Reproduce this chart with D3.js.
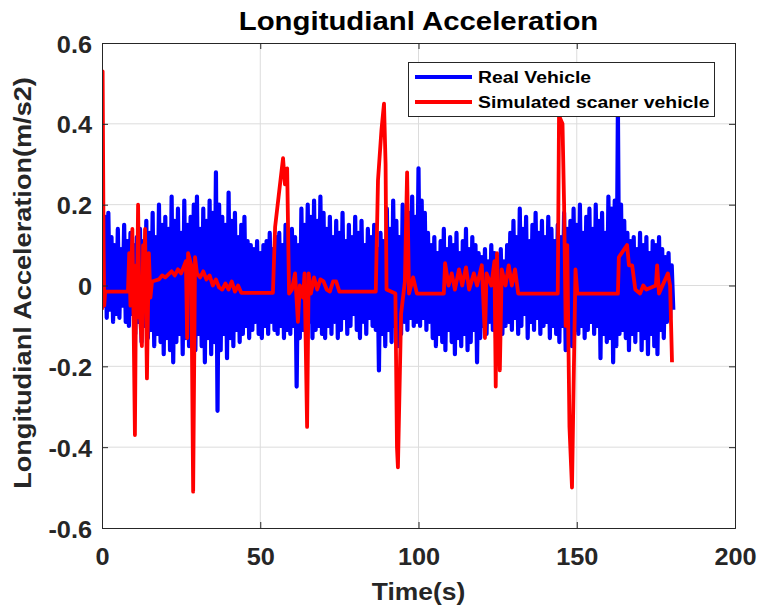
<!DOCTYPE html>
<html><head><meta charset="utf-8">
<script src="https://cdn.jsdelivr.net/npm/d3@7"></script>
<style>body{margin:0;background:#fff}</style>
</head><body><svg id="c" width="761" height="612"></svg>
<script>
// ---------- data ----------
const titleText = "Longitudianl Acceleration";
const xLabel = "Time(s)";
const yLabel = "Longitudianl Acceleration(m/s2)";
const seriesNames = ["Real Vehicle", "Simulated scaner vehicle"];
const xTicks = [0, 50, 100, 150, 200];
const xTickLabels = ["0", "50", "100", "150", "200"];
const yTicks = [-0.6, -0.4, -0.2, 0, 0.2, 0.4, 0.6];
const yTickLabels = ["-0.6", "-0.4", "-0.2", "0", "0.2", "0.4", "0.6"];

// Real vehicle: upper peaks at whole seconds (0..180 s)
const blueHi = [
 0.06,0.17,0.18,0.12,0.10,0.14,0.09,0.15,0.11,0.13,
 0.10,0.12,0.14,0.11,0.16,0.13,0.18,0.12,0.20,0.15,
 0.17,0.14,0.22,0.16,0.19,0.13,0.21,0.15,0.17,0.20,
 0.22,0.14,0.19,0.16,0.21,0.18,0.28,0.20,0.17,0.15,
 0.23,0.16,0.18,0.12,0.15,0.17,0.11,0.10,0.09,0.11,
 0.08,0.10,0.11,0.13,0.09,0.12,0.13,0.10,0.15,0.11,
 0.14,0.12,0.10,0.19,0.15,0.20,0.17,0.21,0.16,0.22,
 0.18,0.14,0.17,0.12,0.16,0.13,0.18,0.11,0.15,0.12,
 0.17,0.13,0.16,0.10,0.14,0.12,0.15,0.09,0.13,0.11,
 0.19,0.14,0.21,0.16,0.12,0.20,0.15,0.18,0.22,0.17,
 0.29,0.21,0.18,0.13,0.10,0.12,0.08,0.11,0.14,0.09,
 0.12,0.10,0.13,0.08,0.11,0.14,0.09,0.12,0.10,0.08,
 0.07,0.09,0.06,0.10,0.08,0.07,0.09,0.06,0.10,0.13,
 0.16,0.12,0.19,0.14,0.17,0.11,0.15,0.18,0.13,0.16,
 0.12,0.17,0.14,0.11,0.15,0.12,0.18,0.14,0.16,0.19,
 0.15,0.20,0.13,0.17,0.19,0.14,0.20,0.16,0.18,0.13,
 0.22,0.19,0.21,0.43,0.20,0.16,0.13,0.11,0.12,0.09,
 0.13,0.10,0.12,0.08,0.11,0.10,0.12,0.09,0.07,0.08,0.05
];
// Real vehicle: lower troughs at half seconds (0.5..180.5 s)
const blueLo = [
 -0.05,-0.08,-0.06,-0.09,-0.07,-0.08,-0.05,-0.09,-0.10,-0.07,
 -0.12,-0.09,-0.14,-0.10,-0.13,-0.11,-0.15,-0.12,-0.14,-0.17,
 -0.13,-0.16,-0.19,-0.14,-0.12,-0.17,-0.13,-0.15,-0.11,-0.16,
 -0.12,-0.15,-0.19,-0.13,-0.17,-0.14,-0.31,-0.16,-0.12,-0.18,
 -0.13,-0.15,-0.11,-0.14,-0.12,-0.10,-0.13,-0.11,-0.09,-0.12,
 -0.13,-0.10,-0.12,-0.09,-0.11,-0.12,-0.10,-0.13,-0.11,-0.12,
 -0.10,-0.25,-0.13,-0.11,-0.12,-0.09,-0.13,-0.11,-0.10,-0.12,
 -0.13,-0.10,-0.12,-0.09,-0.13,-0.11,-0.08,-0.12,-0.10,-0.07,
 -0.11,-0.13,-0.09,-0.12,-0.08,-0.10,-0.11,-0.21,-0.12,-0.15,
 -0.11,-0.14,-0.10,-0.15,-0.12,-0.09,-0.11,-0.08,-0.10,-0.09,
 -0.10,-0.08,-0.11,-0.09,-0.13,-0.15,-0.12,-0.14,-0.16,-0.11,
 -0.14,-0.17,-0.13,-0.15,-0.12,-0.16,-0.14,-0.11,-0.19,-0.13,
 -0.10,-0.12,-0.09,-0.11,-0.13,-0.08,-0.12,-0.10,-0.09,-0.11,
 -0.08,-0.12,-0.10,-0.07,-0.13,-0.09,-0.11,-0.08,-0.12,-0.10,
 -0.09,-0.13,-0.10,-0.12,-0.14,-0.10,-0.16,-0.12,-0.15,-0.11,
 -0.12,-0.10,-0.13,-0.11,-0.09,-0.12,-0.10,-0.18,-0.12,-0.14,
 -0.13,-0.19,-0.15,-0.12,-0.11,-0.13,-0.16,-0.12,-0.14,-0.11,
 -0.16,-0.13,-0.17,-0.12,-0.15,-0.17,-0.11,-0.13,-0.09,-0.08,-0.06
];

// Simulated vehicle (time, value)
const redT = [
 0,0.2,0.5,0.7,1.0,8.2,8.6,9.0,9.6,10.0,10.4,10.8,11.0,11.4,11.8,12.6,13.0,13.3,13.6,14.2,14.8,15.3,15.8,
 18,19,20,22,23,24,25,26.5,26.9,27.2,28.2,28.8,29.4,30.0,31,32,33,34,35,36,37,38,39,40,41,42,43,44,
 54,54.7,55.8,57.2,57.8,58.5,59.1,60.0,61.0,61.9,62.5,63.5,64.0,64.8,65.3,66,67,68,69,70,71,72,73,74,75,
 86.5,87.2,88.3,89.1,89.6,89.9,92.7,93.2,93.5,94.5,95.7,96.4,97.0,98.3,99.5,
 108.0,108.4,109.5,110.5,111.5,112.8,113.8,115.0,116.0,117.5,118.5,120.0,121.0,121.5,123.0,124.0,124.4,124.8,125.7,126.3,127.5,128.5,129.5,130.5,131.5,
 144.0,144.4,145.5,146.0,146.5,147.0,147.7,148.5,149.0,149.6,150.2,
 163.0,163.3,165.9,166.5,167.5,168.5,170,171,172,175.0,175.4,176.0,178.8,179.5,180.1
];
const redV = [
 -0.06,0.53,0.10,-0.05,-0.015,-0.015,0.08,-0.05,0.14,-0.10,-0.37,0.05,-0.08,0.20,-0.05,-0.15,0.10,-0.05,0.14,-0.23,0.08,-0.03,0.01,
 0.015,0.025,0.02,0.035,0.025,0.04,0.03,0.06,-0.13,0.08,0.05,-0.51,0.07,0.03,0.02,0.035,0.015,0.025,0.0,0.015,-0.005,-0.01,0.005,-0.01,0.01,-0.015,0.0,-0.018,
 -0.018,0.145,0.22,0.315,0.25,0.29,-0.02,-0.01,0.03,-0.09,0.0,-0.03,0.03,-0.35,0.03,-0.02,0.02,-0.01,0.015,0.01,-0.01,-0.015,0.01,0.01,-0.015,
 -0.015,0.26,0.385,0.45,0.30,-0.01,-0.02,-0.40,-0.45,-0.07,0.01,0.28,-0.02,0.02,-0.02,
 -0.02,0.055,0.0,0.03,-0.01,0.04,0.0,0.045,-0.01,0.03,0.0,0.05,-0.13,0.03,0.0,0.06,-0.25,0.08,-0.21,0.04,0.0,0.05,0.0,0.04,-0.02,
 -0.02,0.42,0.40,0.20,-0.10,0.10,-0.35,-0.50,-0.25,0.04,-0.02,
 -0.02,0.07,0.10,0.05,0.05,-0.01,-0.02,0.0,-0.01,0.0,0.05,-0.02,0.03,0.0,-0.19
];

// ---------- layout ----------
const W = 761, H = 612;
const M = {left: 102, top: 43, right: 26, bottom: 84};
const pw = W - M.left - M.right, ph = H - M.top - M.bottom;
const FONT = '"Liberation Sans", Arial, Helvetica, sans-serif';
const AX = '#262626';

const svg = d3.select('#c');
svg.append('rect').attr('width', W).attr('height', H).attr('fill', '#fff');

const x = d3.scaleLinear().domain([0, 200]).range([M.left, M.left + pw]);
const y = d3.scaleLinear().domain([-0.6, 0.6]).range([M.top + ph, M.top]);

// grid
const grid = svg.append('g');
grid.selectAll('.gx').data(xTicks.slice(1, -1)).join('line')
  .attr('x1', d => x(d)).attr('x2', d => x(d)).attr('y1', M.top).attr('y2', M.top + ph)
  .attr('stroke', '#dcdcdc').attr('stroke-width', 1);
grid.selectAll('.gy').data(yTicks.slice(1, -1)).join('line')
  .attr('y1', d => y(d)).attr('y2', d => y(d)).attr('x1', M.left).attr('x2', M.left + pw)
  .attr('stroke', '#dcdcdc').attr('stroke-width', 1);

// clip
svg.append('clipPath').attr('id', 'clip').append('rect')
  .attr('x', M.left).attr('y', M.top).attr('width', pw).attr('height', ph);
const plot = svg.append('g').attr('clip-path', 'url(#clip)');

const blueData = [];
blueHi.forEach((v, i) => { blueData.push([i, v]); blueData.push([i + 0.5, blueLo[i]]); });
const redData = redT.map((t, i) => [t, redV[i]]);

const line = d3.line().x(d => x(d[0])).y(d => y(d[1]));
plot.append('path').datum(blueData).attr('d', line).attr('fill', 'none')
  .attr('stroke', '#0000ff').attr('stroke-width', 4.2).attr('stroke-linejoin', 'round');
plot.append('path').datum(redData).attr('d', line).attr('fill', 'none')
  .attr('stroke', '#ff0000').attr('stroke-width', 3.8).attr('stroke-linejoin', 'round');

// axes (ticks inside)
const tl = 6;
const axB = svg.append('g').attr('transform', `translate(0,${M.top + ph})`)
  .call(d3.axisBottom(x).tickValues(xTicks).tickSize(-tl).tickFormat((d, i) => xTickLabels[i]));
const axT = svg.append('g').attr('transform', `translate(0,${M.top})`)
  .call(d3.axisTop(x).tickValues(xTicks).tickSize(-tl).tickFormat(''));
const axL = svg.append('g').attr('transform', `translate(${M.left},0)`)
  .call(d3.axisLeft(y).tickValues(yTicks).tickSize(-tl).tickFormat((d, i) => yTickLabels[i]));
const axR = svg.append('g').attr('transform', `translate(${M.left + pw},0)`)
  .call(d3.axisRight(y).tickValues(yTicks).tickSize(-tl).tickFormat(''));
[axB, axT, axL, axR].forEach(a => {
  a.select('.domain').attr('stroke', AX).attr('stroke-width', 1);
  a.selectAll('.tick line').attr('stroke', AX);
});
axB.selectAll('.tick text')
  .attr('y', 0).attr('dy', 0)
  .attr('transform', `translate(0,37) scale(1.1,1)`)
  .style('font', `bold 23px ${FONT}`).attr('fill', AX);
axL.selectAll('.tick text')
  .attr('x', 0).attr('dy', 0)
  .attr('transform', `translate(-10,9) scale(1.1,1)`)
  .style('font', `bold 23px ${FONT}`).attr('fill', AX).attr('text-anchor', 'end');

function txt(px, py, rot, s, size, sx, fill, anchor) {
  svg.append('text')
    .attr('transform', `translate(${px},${py}) rotate(${rot}) scale(${sx},1)`)
    .attr('text-anchor', anchor || 'middle')
    .style('font', `bold ${size}px ${FONT}`)
    .attr('fill', fill).text(s);
}
txt(M.left + pw / 2, 30, 0, titleText, 26, 1.13, '#000');
txt(M.left + pw / 2, 600, 0, xLabel, 24, 1.1, AX);
txt(31, 283, -90, yLabel, 24, 1.13, AX);

// legend
const lg = svg.append('g');
lg.append('rect').attr('x', 408.5).attr('y', 62.5).attr('width', 306).attr('height', 54)
  .attr('fill', '#fff').attr('stroke', AX).attr('stroke-width', 1);
const lgColors = ['#0000ff', '#ff0000'];
seriesNames.forEach((n, i) => {
  const cy = 77 + i * 25;
  lg.append('line').attr('x1', 415).attr('x2', 472).attr('y1', cy).attr('y2', cy)
    .attr('stroke', lgColors[i]).attr('stroke-width', 3.8);
  lg.append('text')
    .attr('transform', `translate(478,${cy + 6}) scale(1.14,1)`)
    .style('font', `bold 17px ${FONT}`).attr('fill', '#000').text(n);
});
</script>
</body></html>
